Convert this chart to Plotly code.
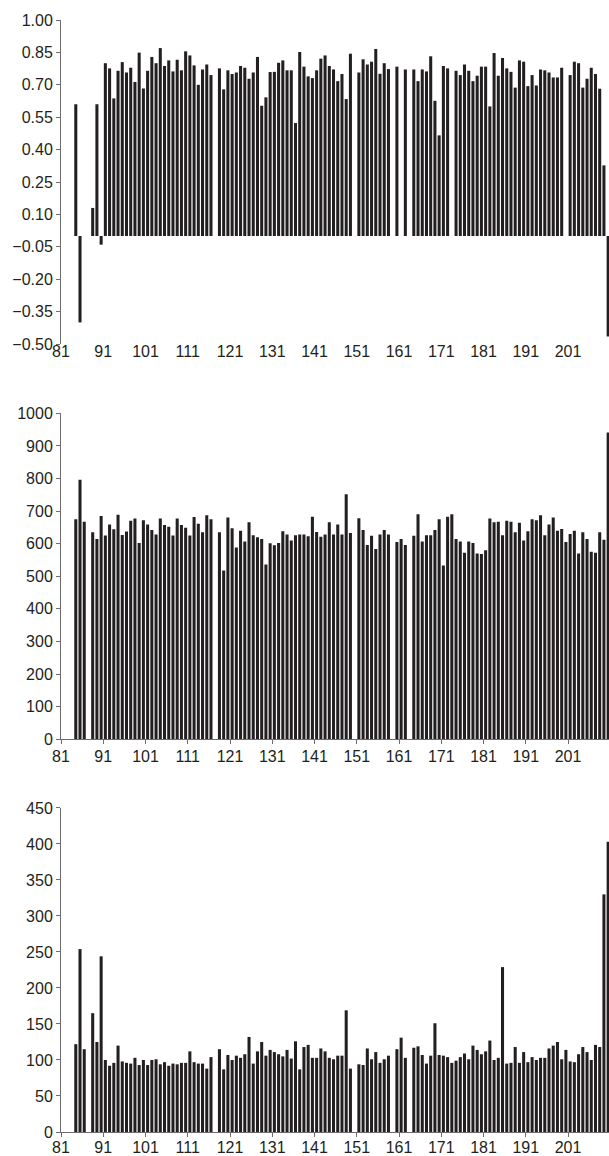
import plotly.graph_objects as go

# ---------------- data ----------------
residues = list(range(81, 211))

top_vals = [
    None, None, None, 0.61, -0.40, None, None, 0.13, 0.61, -0.04,          # 81-90
    0.80, 0.776, 0.637, 0.765, 0.805, 0.757, 0.779, 0.713, 0.849, 0.683,   # 91-100
    0.765, 0.829, 0.80, 0.870, 0.787, 0.813, 0.762, 0.816, 0.767, 0.855,   # 101-110
    0.836, 0.79, 0.70, 0.771, 0.794, 0.745, None, 0.776, 0.679, 0.767,     # 111-120
    0.75, 0.757, 0.787, 0.779, 0.728, 0.757, 0.829, 0.603, 0.642, 0.759,   # 121-130
    0.76, 0.802, 0.813, 0.767, 0.767, 0.523, 0.852, 0.784, 0.739, 0.731,   # 131-140
    0.767, 0.821, 0.836, 0.787, 0.771, 0.717, 0.75, 0.634, 0.844, None,    # 141-150
    0.757, 0.818, 0.794, 0.807, 0.866, 0.751, 0.80, 0.773, None, 0.784,    # 151-160
    None, 0.771, None, 0.771, 0.717, 0.771, 0.762, 0.832, 0.626, 0.466,    # 161-170
    0.787, 0.776, None, 0.765, 0.745, 0.794, 0.765, 0.717, 0.742, 0.784,   # 171-180
    0.784, 0.60, 0.847, 0.742, 0.824, 0.776, 0.76, 0.687, 0.813, 0.807,    # 181-190
    0.694, 0.745, 0.697, 0.771, 0.767, 0.757, 0.734, 0.734, 0.779, None,   # 191-200
    0.745, 0.807, 0.80, 0.687, 0.728, 0.779, 0.75, 0.682, 0.327, -0.465,   # 201-210
]

mid_vals = [
    None, None, None, 675, 796, 667, None, 635, 614, 685,      # 81-90
    625, 659, 644, 689, 627, 637, 670, 677, 602, 672,          # 91-100
    659, 642, 628, 677, 657, 652, 625, 677, 657, 649,          # 101-110
    625, 682, 661, 635, 687, 675, None, 635, 518, 680,         # 111-120
    647, 588, 640, 607, 666, 626, 620, 614, 536, 601,          # 121-130
    595, 602, 638, 628, 610, 626, 628, 628, 623, 683,          # 131-140
    636, 621, 628, 666, 628, 659, 628, 752, 633, None,         # 141-150
    678, 642, 596, 624, 584, 628, 642, 628, None, 605,         # 151-160
    614, 596, None, 624, 690, 607, 626, 626, 642, 675,         # 161-170
    533, 683, 690, 614, 607, 572, 607, 602, 570, 568,          # 171-180
    580, 677, 666, 667, 626, 670, 667, 635, 664, 610,          # 181-190
    638, 675, 672, 687, 626, 659, 680, 640, 645, 605,          # 191-200
    630, 640, 570, 635, 614, 575, 572, 635, 612, 941,          # 201-210
]

bot_vals = [
    None, None, None, 122, 254, 115, None, 165, 125, 244,      # 81-90
    100, 92, 96, 120, 98, 96, 95, 103, 93, 100,                # 91-100
    93, 100, 101, 94, 97, 92, 95, 94, 96, 96,                  # 101-110
    112, 97, 95, 95, 88, 104, None, 115, 87, 107,              # 111-120
    100, 106, 103, 108, 132, 95, 112, 125, 106, 114,           # 121-130
    111, 108, 105, 114, 102, 126, 87, 118, 121, 103,           # 131-140
    103, 116, 112, 103, 101, 106, 106, 169, 88, None,          # 141-150
    94, 93, 116, 101, 111, 96, 101, 106, None, 115,            # 151-160
    131, 103, None, 117, 119, 107, 95, 106, 151, 107,          # 161-170
    106, 104, 96, 99, 104, 109, 101, 120, 114, 108,            # 171-180
    112, 127, 100, 103, 229, 95, 96, 118, 96, 111,             # 181-190
    97, 104, 100, 103, 103, 116, 120, 125, 101, 114,           # 191-200
    98, 97, 108, 118, 111, 100, 121, 118, 330, 403,            # 201-210
]

x_tick_labels = ["81", "91", "101", "111", "121", "131", "141", "151", "161", "171", "181", "191", "201"]
x_tick_pos = [int(t) - 0.5 for t in x_tick_labels]

top_ticks = [-0.50, -0.35, -0.20, -0.05, 0.10, 0.25, 0.40, 0.55, 0.70, 0.85, 1.00]
mid_ticks = list(range(0, 1001, 100))
bot_ticks = list(range(0, 451, 50))

# ---------------- style ----------------
BAR = "#231f20"
AX = "#6d6d6d"
TXT = "#231f20"
FONT = "Liberation Sans, Arial, Helvetica, sans-serif"
FS = 16
XRANGE = [80.5, 210.2]

fig = go.Figure()
fig.add_trace(go.Bar(x=residues, y=top_vals, marker_color=BAR, marker_line_width=0,
                     xaxis="x", yaxis="y", showlegend=False))
fig.add_trace(go.Bar(x=residues, y=mid_vals, marker_color=BAR, marker_line_width=0,
                     xaxis="x2", yaxis="y2", showlegend=False))
fig.add_trace(go.Bar(x=residues, y=bot_vals, marker_color=BAR, marker_line_width=0,
                     xaxis="x3", yaxis="y3", showlegend=False))

dom_top = [0.7086, 1.0]
dom_mid = [0.3532, 0.6463]
dom_bot = [0.0, 0.2914]
zero_pos_top = dom_top[0] + (dom_top[1] - dom_top[0]) * (0 - (-0.5)) / 1.5

common_x = dict(range=XRANGE, tickmode="array", tickvals=x_tick_pos, ticktext=x_tick_labels,
                showgrid=False, zeroline=False, tickfont=dict(size=FS, color=TXT, family=FONT),
                linecolor=AX, tickcolor=AX, linewidth=1, tickwidth=1, fixedrange=True,
                automargin=False)
common_y = dict(showgrid=False, zeroline=False, showline=True, linecolor=AX, linewidth=1,
                ticks="outside", ticklen=4, tickcolor=AX, tickwidth=1, automargin=False,
                tickfont=dict(size=FS, color=TXT, family=FONT), ticklabelstandoff=0,
                fixedrange=True)

fig.update_layout(
    width=609, height=1156,
    margin=dict(l=61, r=0, t=20, b=24, autoexpand=False),
    paper_bgcolor="white", plot_bgcolor="white",
    bargap=0.28,
    hovermode=False,
    font=dict(family=FONT, size=FS, color=TXT),
    # top chart: labels at bottom, ticks on zero line via overlay axis
    xaxis=dict(**common_x, anchor="y", domain=[0, 1], showline=False, ticks="",
               ticklabelstandoff=-4),
    xaxis4=dict(range=XRANGE, tickmode="array", tickvals=x_tick_pos, showticklabels=False,
                overlaying="x", anchor="free", position=zero_pos_top, showline=True,
                linecolor="#231f20", linewidth=1, ticks="outside", ticklen=4, tickcolor=AX,
                showgrid=False, zeroline=False, automargin=False, fixedrange=True),
    yaxis=dict(**common_y, domain=dom_top, range=[-0.5, 1.0], tickmode="array",
               tickvals=top_ticks, tickformat=".2f"),
    xaxis2=dict(**common_x, anchor="y2", domain=[0, 1], showline=True, ticks="outside",
                ticklen=4, ticklabelstandoff=-1),
    yaxis2=dict(**common_y, domain=dom_mid, range=[0, 1000], tickmode="array",
                tickvals=mid_ticks),
    xaxis3=dict(**common_x, anchor="y3", domain=[0, 1], showline=True, ticks="outside",
                ticklen=4, ticklabelstandoff=-3),
    yaxis3=dict(**common_y, domain=dom_bot, range=[0, 450], tickmode="array",
                tickvals=bot_ticks),
)

# remove the page's default body margin so the figure sits at the window's top-left corner
fig.write_html(
    "out.html",
    config={"displayModeBar": False, "staticPlot": True},
    post_script="document.body.style.margin='0';document.body.style.overflow='hidden';",
)
